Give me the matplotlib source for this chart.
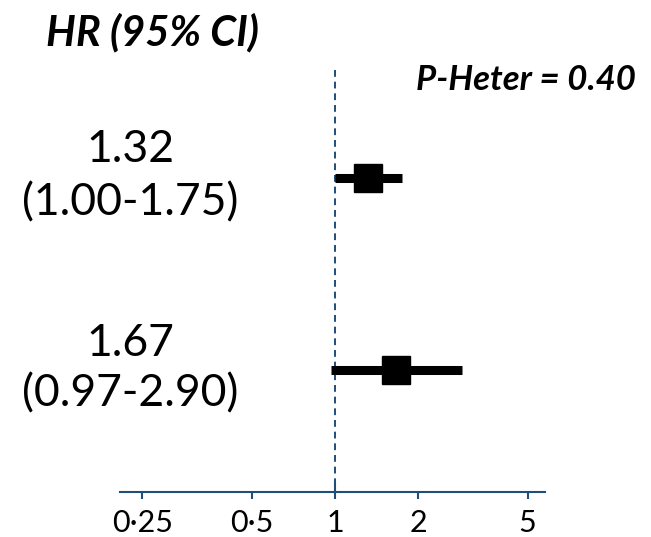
import numpy as np
import matplotlib
matplotlib.use("Agg")
import matplotlib.pyplot as plt
import matplotlib.transforms as mtransforms

plt.rcParams['font.family'] = ['Lato', 'DejaVu Sans']

hr = [1.32, 1.67]
lo = [1.00, 0.97]
hi = [1.75, 2.90]
hr_labels = ["1.32", "1.67"]
ci_labels = ["(1.00-1.75)", "(0.97-2.90)"]
tick_vals = [0.2, 0.5, 1, 2, 5]
tick_labels = ["0·25", "0·5", "1", "2", "5"]
p_heter = "P-Heter = 0.40"

W, H = 651, 537
fig = plt.figure(figsize=(W/100, H/100), dpi=100)

def px(x, y):
    return x / W, 1 - y / H

# axes region in pixels
x0, x1 = 120, 545
ytop, ybot = 60, 492
l, b = px(x0, ybot)
ax = fig.add_axes([l, b, (x1 - x0) / W, (ybot - ytop) / H])
ax.set_xscale('log')
ax.set_xlim(np.exp(-215/119.7), np.exp(210/119.7))
ax.set_ylim(1.635, -0.615)

blue = '#1F4E79'
ax.vlines(1, -0.5625, 1.635, colors=blue, linestyles=(0, (3.5, 2.5)), linewidth=1.4, zorder=1)

for i in range(len(hr)):
    ax.plot([lo[i], hi[i]], [i, i], color='black', linewidth=6.5, solid_capstyle='butt', zorder=2)
    ax.plot(hr[i], i, marker='s', markersize=20, color='black', zorder=3)

for s in ['top', 'right', 'left']:
    ax.spines[s].set_visible(False)
ax.spines['bottom'].set_color(blue)
ax.spines['bottom'].set_linewidth(1.5)
ax.set_yticks([])
ax.xaxis.set_minor_locator(matplotlib.ticker.NullLocator())
ax.xaxis.set_minor_formatter(matplotlib.ticker.NullFormatter())
ax.set_xticks(tick_vals)
ax.set_xticklabels([])
ax.tick_params(axis='x', which='major', colors=blue, length=5, width=1.5)
ax.plot([1, 1], [1.635, 1.59], color=blue, linewidth=1.5, clip_on=False)

# tick labels placed on baseline
trans = mtransforms.blended_transform_factory(ax.transData, fig.transFigure)
for v, t in zip(tick_vals, tick_labels):
    ax.text(v, 1 - 532 / H, t, transform=trans, fontsize=22, ha='center', va='baseline', clip_on=False)

# left texts
fig.text(*px(153, 33), "HR (95% CI)", fontsize=30, fontweight='bold', fontstyle='italic', ha='center', va='center')
rows_y = [(150, 203), (343, 394)]
for i in range(len(hr)):
    fig.text(*px(130, rows_y[i][0]), hr_labels[i], fontsize=32, ha='center', va='center')
    fig.text(*px(130, rows_y[i][1]), ci_labels[i], fontsize=32, ha='center', va='center')
fig.text(*px(636, 80), p_heter, fontsize=25, fontweight='bold', fontstyle='italic', ha='right', va='center')

fig.savefig('out.png', dpi=100)
